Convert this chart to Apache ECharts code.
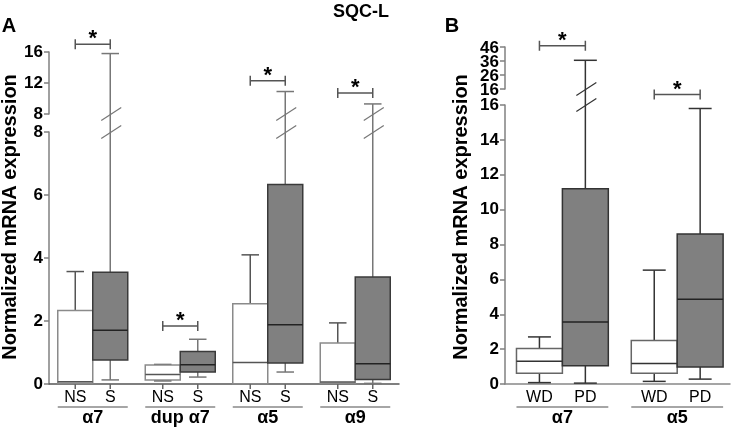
<!DOCTYPE html>
<html><head><meta charset="utf-8">
<script src="https://cdn.jsdelivr.net/npm/echarts@6/dist/echarts.min.js"></script>
<style>html,body{margin:0;padding:0;background:#fff}#c{width:736px;height:429px}</style>
</head><body><div id="c"></div>
<script>
// ---------- data ----------
const groupsA = ['α7', 'dup α7', 'α5', 'α9'];
const subA = ['NS', 'S'];
// [min, q1, median, q3, max]
const boxesA_NS = [
  [0.02, 0.02, 0.07, 2.33, 3.57],
  [0.10, 0.13, 0.30, 0.60, 0.62],
  [0.01, 0.01, 0.68, 2.55, 4.10],
  [0.02, 0.02, 0.06, 1.30, 1.94]
];
const boxesA_S = [
  [0.13, 0.76, 1.71, 3.55, 15.8],
  [0.22, 0.38, 0.61, 1.03, 1.42],
  [0.38, 0.67, 1.88, 6.33, 10.9],
  [0.02, 0.14, 0.64, 3.40, 9.3]
];
const groupsB = ['α7', 'α5'];
const subB = ['WD', 'PD'];
const boxesB_WD = [
  [0.08, 0.62, 1.31, 2.04, 2.70],
  [0.15, 0.62, 1.18, 2.50, 6.53]
];
const boxesB_PD = [
  [0.05, 1.05, 3.55, 11.2, 36.5],
  [0.28, 0.97, 4.86, 8.60, 15.8]
];
// significance brackets: [group index, level]
const sigA_upper = [[0, 17.0], [2, 12.3], [3, 10.7]];
const sigA_lower = [[1, 1.84]];
const sigB_upper = [[0, 46.9]];
const sigB_lower = [[1, 16.6]];
// y tick labels
const ticksA_lower = [0, 2, 4, 6, 8];
const ticksA_upper = [8, 12, 16];
const ticksB_lower = [0, 2, 4, 6, 8, 10, 12, 14, 16];
const ticksB_upper = [16, 26, 36, 46];

// ---------- layout ----------
const FONT = 'Liberation Sans, Arial, sans-serif';
const OFF = 0.2, BOXW = 0.4;
const A = {left: 49, width: 350, upTop: 52, upH: 62, loTop: 132, loH: 252};
const B = {left: 505, width: 225, upTop: 47, upH: 42, loTop: 105, loH: 279};
const gapA = A.loTop - (A.upTop + A.upH);
const gapB = B.loTop - (B.upTop + B.upH);
const XA = [-0.5, 3.5], XB = [-0.5, 1.46];

function slash(cx, cy, color) {
  return {type: 'line', shape: {x1: cx - 9, y1: cy + 6.5, x2: cx + 11, y2: cy - 6.5},
    style: {stroke: color, lineWidth: 1.2}};
}
function vline(x, y1, y2, c) { return {type: 'line', shape: {x1: x, y1: y1, x2: x, y2: y2}, style: {stroke: c, lineWidth: 1.5}}; }
function hline(x1, x2, y, c) { return {type: 'line', shape: {x1: x1, y1: y, x2: x2, y2: y}, style: {stroke: c, lineWidth: 1.5}}; }

function boxRender(st, topVal, gap) {
  return function (params, api) {
    const x = api.value(0), mn = api.value(1), q1 = api.value(2), md = api.value(3), q3 = api.value(4), mx = api.value(5);
    const w = api.size([BOXW, 0])[0], hw = w / 2, cw = w / 4;
    const pQ1 = api.coord([x, q1]), pQ3 = api.coord([x, q3]), pMd = api.coord([x, md]), pMn = api.coord([x, mn]);
    const cx = pQ1[0];
    const ch = [];
    if (mx > topVal) {
      const pT = api.coord([x, topVal]);
      ch.push(vline(cx, pQ3[1], pT[1] - gap, st.wh));
      ch.push(slash(cx, pT[1], st.wh));
    } else {
      const pMx = api.coord([x, mx]);
      ch.push(vline(cx, pQ3[1], pMx[1], st.wh));
      ch.push(hline(cx - cw, cx + cw, pMx[1], st.wh));
    }
    if (mn < q1) {
      ch.push(vline(cx, pQ1[1], pMn[1], st.wh));
      ch.push(hline(cx - cw, cx + cw, pMn[1], st.wh));
    }
    ch.push({type: 'rect', shape: {x: cx - hw, y: pQ3[1], width: w, height: pQ1[1] - pQ3[1]},
      style: {fill: st.fill, stroke: st.border, lineWidth: 1.5}});
    ch.push({type: 'line', shape: {x1: cx - hw, y1: pMd[1], x2: cx + hw, y2: pMd[1]},
      style: {stroke: st.median, lineWidth: 1.5}});
    return {type: 'group', children: ch};
  };
}
function upperRender(st, botVal) {
  return function (params, api) {
    const x = api.value(0), mx = api.value(1);
    const w = api.size([BOXW, 0])[0], cw = w / 4;
    const pM = api.coord([x, mx]), pB = api.coord([x, botVal]);
    const cx = pM[0];
    return {type: 'group', children: [
      vline(cx, pB[1], pM[1], st.wh),
      hline(cx - cw, cx + cw, pM[1], st.wh),
      slash(cx, pB[1], st.wh)
    ]};
  };
}
function sigRender(params, api) {
  const g = api.value(0), v = api.value(1);
  const l = api.coord([g - OFF, v]), r = api.coord([g + OFF, v]);
  const c = '#555';
  return {type: 'group', children: [
    hline(l[0], r[0], l[1], c),
    vline(l[0], l[1] - 5, l[1] + 5, c),
    vline(r[0], r[1] - 5, r[1] + 5, c),
    {type: 'text', x: (l[0] + r[0]) / 2, y: l[1] - 5,
      style: {text: '*', fontSize: 22, fontWeight: 'bold', fontFamily: FONT, fill: '#000', align: 'center', verticalAlign: 'middle'}}
  ]};
}
function subLabelRender(texts, ticks) {
  return function (params, api) {
    const p = api.coord([api.value(0), 0]);
    const ch = [{type: 'text', x: p[0], y: p[1] + 14,
      style: {text: texts[params.dataIndex], fontSize: 16, fontFamily: FONT, fill: '#000', align: 'center', verticalAlign: 'middle'}}];
    if (ticks) ch.push(vline(p[0], p[1], p[1] + 5, '#666'));
    return {type: 'group', children: ch};
  };
}
function groupLabelRender(texts) {
  return function (params, api) {
    const g = api.value(0);
    const l = api.coord([g - BOXW, 0]), r = api.coord([g + BOXW, 0]);
    return {type: 'group', children: [
      {type: 'line', shape: {x1: l[0], y1: l[1] + 23, x2: r[0], y2: l[1] + 23}, style: {stroke: '#888', lineWidth: 1.5}},
      {type: 'text', x: (l[0] + r[0]) / 2, y: l[1] + 34,
        style: {text: texts[params.dataIndex], fontSize: 18, fontWeight: 'bold', fontFamily: FONT, fill: '#000', align: 'center', verticalAlign: 'middle'}}
    ]};
  };
}
// tick labels for the compressed upper axis of panel B (drawn as text so none is dropped)
function tickLabelRender(params, api) {
  const p = api.coord([api.value(0), api.value(1)]);
  return {type: 'text', x: p[0] - 6, y: p[1] + 1,
    style: {text: String(api.value(1)), fontSize: 17, fontWeight: 'bold', fontFamily: FONT, fill: '#000', align: 'right', verticalAlign: 'middle'}};
}

function subItems(groups, subs) {
  const xs = [], txt = [];
  groups.forEach((g, gi) => subs.forEach((s, si) => { xs.push([gi + (si ? OFF : -OFF), 0]); txt.push(s); }));
  return {xs, txt};
}

const stNS = {fill: '#fff', border: '#8a8a8a', median: '#555', wh: '#555'};
const stS = {fill: '#808080', border: '#3a3a3a', median: '#222', wh: '#777'};
const stBW = {fill: '#fff', border: '#666', median: '#333', wh: '#333'};
const stBP = {fill: '#808080', border: '#333', median: '#222', wh: '#333'};

const yAx = (ticks, gridIndex, showLabel) => ({
  type: 'value', gridIndex: gridIndex, min: ticks[0], max: ticks[ticks.length - 1], interval: ticks[1] - ticks[0],
  axisLine: {show: true, onZero: false, lineStyle: {color: '#808080', width: 1.5}},
  axisTick: {show: true, length: 5, lineStyle: {color: '#808080', width: 1.5}},
  axisLabel: {show: showLabel, color: '#000', fontSize: 17, fontWeight: 'bold', fontFamily: FONT, margin: 6,
    hideOverlap: false, showMinLabel: true, showMaxLabel: true},
  splitLine: {show: false}
});
const xAx = (rng, gridIndex, show, color) => ({
  type: 'value', gridIndex: gridIndex, min: rng[0], max: rng[1], show: show,
  axisLine: {show: show, onZero: false, lineStyle: {color: color, width: 1.5}},
  axisTick: {show: false}, axisLabel: {show: false}, splitLine: {show: false}
});

const subAx = subItems(groupsA, subA), subBx = subItems(groupsB, subB);
const A_TOP = ticksA_lower[ticksA_lower.length - 1];
const B_TOP = ticksB_lower[ticksB_lower.length - 1];

function seriesFor(ns, s, stN, stP, topVal, gap, loIdx, upIdx) {
  const out = [];
  const mk = (arr, st, off) => {
    out.push({type: 'custom', xAxisIndex: loIdx, yAxisIndex: loIdx, clip: false, silent: true,
      renderItem: boxRender(st, topVal, gap), data: arr.map((b, gi) => [gi + off].concat(b))});
    const up = [];
    arr.forEach((b, gi) => { if (b[4] > topVal) up.push([gi + off, b[4]]); });
    if (up.length) out.push({type: 'custom', xAxisIndex: upIdx, yAxisIndex: upIdx, clip: false, silent: true,
      renderItem: upperRender(st, topVal), data: up});
  };
  mk(ns, stN, -OFF);
  mk(s, stP, OFF);
  return out;
}

const series = [].concat(
  seriesFor(boxesA_NS, boxesA_S, stNS, stS, A_TOP, gapA, 0, 1),
  seriesFor(boxesB_WD, boxesB_PD, stBW, stBP, B_TOP, gapB, 2, 3),
  [
    {type: 'custom', xAxisIndex: 1, yAxisIndex: 1, clip: false, silent: true, renderItem: sigRender, data: sigA_upper},
    {type: 'custom', xAxisIndex: 0, yAxisIndex: 0, clip: false, silent: true, renderItem: sigRender, data: sigA_lower},
    {type: 'custom', xAxisIndex: 3, yAxisIndex: 3, clip: false, silent: true, renderItem: sigRender, data: sigB_upper},
    {type: 'custom', xAxisIndex: 2, yAxisIndex: 2, clip: false, silent: true, renderItem: sigRender, data: sigB_lower},
    {type: 'custom', xAxisIndex: 0, yAxisIndex: 0, clip: false, silent: true, renderItem: subLabelRender(subAx.txt, true), data: subAx.xs},
    {type: 'custom', xAxisIndex: 2, yAxisIndex: 2, clip: false, silent: true, renderItem: subLabelRender(subBx.txt, false), data: subBx.xs},
    {type: 'custom', xAxisIndex: 0, yAxisIndex: 0, clip: false, silent: true, renderItem: groupLabelRender(groupsA), data: groupsA.map((g, i) => [i, 0])},
    {type: 'custom', xAxisIndex: 2, yAxisIndex: 2, clip: false, silent: true, renderItem: groupLabelRender(groupsB), data: groupsB.map((g, i) => [i, 0])},
    {type: 'custom', xAxisIndex: 3, yAxisIndex: 3, clip: false, silent: true, renderItem: tickLabelRender, data: ticksB_upper.map(v => [XB[0], v])}
  ]
);

const chart = echarts.init(document.getElementById('c'), null, {renderer: 'canvas'});
chart.setOption({
  animation: false,
  backgroundColor: '#fff',
  grid: [
    {left: A.left, width: A.width, top: A.loTop, height: A.loH, outerBoundsMode: 'none'},
    {left: A.left, width: A.width, top: A.upTop, height: A.upH, outerBoundsMode: 'none'},
    {left: B.left, width: B.width, top: B.loTop, height: B.loH, outerBoundsMode: 'none'},
    {left: B.left, width: B.width, top: B.upTop, height: B.upH, outerBoundsMode: 'none'}
  ],
  xAxis: [
    xAx(XA, 0, true, '#555'),
    xAx(XA, 1, false, '#555'),
    xAx(XB, 2, true, '#888'),
    xAx(XB, 3, false, '#888')
  ],
  yAxis: [yAx(ticksA_lower, 0, true), yAx(ticksA_upper, 1, true), yAx(ticksB_lower, 2, true), yAx(ticksB_upper, 3, false)],
  graphic: [
    {type: 'text', x: 9, y: 26, style: {text: 'A', fontSize: 20, fontWeight: 'bold', fontFamily: FONT, fill: '#000', align: 'center', verticalAlign: 'middle'}},
    {type: 'text', x: 452, y: 26, style: {text: 'B', fontSize: 20, fontWeight: 'bold', fontFamily: FONT, fill: '#000', align: 'center', verticalAlign: 'middle'}},
    {type: 'text', x: 361, y: 12, style: {text: 'SQC-L', fontSize: 18, fontWeight: 'bold', fontFamily: FONT, fill: '#000', align: 'center', verticalAlign: 'middle'}},
    {type: 'text', x: 10, y: 217, rotation: Math.PI / 2, style: {text: 'Normalized mRNA expression', fontSize: 20, fontWeight: 'bold', fontFamily: FONT, fill: '#000', align: 'center', verticalAlign: 'middle'}},
    {type: 'text', x: 461, y: 217, rotation: Math.PI / 2, style: {text: 'Normalized mRNA expression', fontSize: 20, fontWeight: 'bold', fontFamily: FONT, fill: '#000', align: 'center', verticalAlign: 'middle'}}
  ],
  series: series
});
</script></body></html>
